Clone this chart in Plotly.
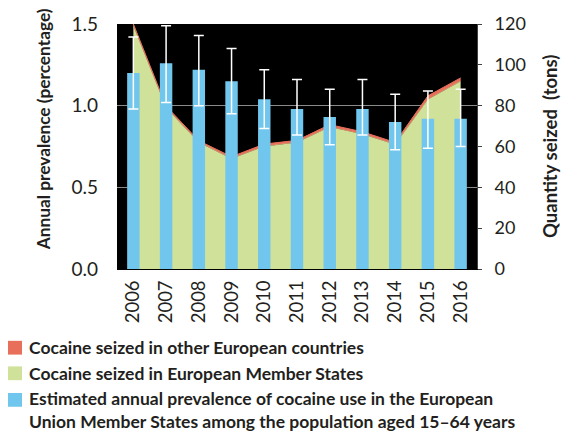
import plotly.graph_objects as go

years = ["2006", "2007", "2008", "2009", "2010", "2011", "2012", "2013", "2014", "2015", "2016"]
seized_eu = [119, 79, 62, 54, 60, 62, 69.5, 66, 61, 83, 92]
seized_other = [1, 0.8, 0.8, 1.0, 1.2, 1.0, 1.2, 1.2, 1.0, 1.8, 1.6]
prevalence = [1.20, 1.26, 1.22, 1.15, 1.04, 0.98, 0.93, 0.98, 0.90, 0.92, 0.92]
prev_upper = [1.42, 1.49, 1.43, 1.35, 1.22, 1.16, 1.10, 1.16, 1.07, 1.09, 1.10]
prev_lower = [0.98, 1.02, 1.00, 0.95, 0.86, 0.82, 0.76, 0.82, 0.73, 0.74, 0.75]

legend_labels = [
    "Cocaine seized in other European countries",
    "Cocaine seized in European Member States",
    "Estimated annual prevalence of cocaine use in the European<br>Union Member States among the population aged 15–64 years",
]

RED = "#E8705A"
GREEN = "#D0E19A"
BLUE = "#70C6EC"
TXT = "#231F20"
FONT = "Lato"

W, H = 578, 433
L, R, T, B = 117, 101, 20, 164
PW, PH = W - L - R, H - T - B

def px(x):
    return (x - L) / PW

def py(y):
    return (H - B - y) / PH

err_plus = [u - p for u, p in zip(prev_upper, prevalence)]
err_minus = [p - l for l, p in zip(prev_lower, prevalence)]

fig = go.Figure()
fig.add_trace(go.Scatter(
    x=years, y=seized_eu, yaxis="y", stackgroup="s", mode="lines",
    line=dict(color=GREEN, width=0.5), fillcolor=GREEN, showlegend=False,
))
fig.add_trace(go.Scatter(
    x=years, y=seized_other, yaxis="y", stackgroup="s", mode="lines",
    line=dict(color=RED, width=1), fillcolor=RED, showlegend=False,
))
fig.add_trace(go.Bar(
    x=years, y=prevalence, yaxis="y2", width=0.38, marker=dict(color=BLUE, line=dict(width=0)),
    error_y=dict(type="data", symmetric=False, array=err_plus, arrayminus=err_minus,
                 color="white", thickness=1.5, width=5),
    showlegend=False,
))

shapes = []
annotations = []
legend_rows = [(349, RED, 0), (375, GREEN, 1), (402, BLUE, 2)]
for cy, col, i in legend_rows:
    shapes.append(dict(type="rect", xref="paper", yref="paper",
                       x0=px(8), x1=px(22), y0=py(cy - 7), y1=py(cy + 7),
                       fillcolor=col, line=dict(width=0)))
    ty = cy if i < 2 else 412.5
    annotations.append(dict(xref="paper", yref="paper", x=px(27), y=py(ty),
                            xanchor="left", yanchor="middle", align="left",
                            text="<b>" + legend_labels[i] + "</b>", showarrow=False,
                            font=dict(family=FONT, size=17.5, color=TXT)))

annotations.append(dict(xref="paper", yref="paper", x=px(43), y=py(127),
                        text="<b>Annual prevalence (percentage)</b>", textangle=-90,
                        showarrow=False, xanchor="center", yanchor="middle",
                        font=dict(family=FONT, size=17.3, color=TXT)))
annotations.append(dict(xref="paper", yref="paper", x=px(550), y=py(145),
                        text="<b>Quantity seized  (tons)</b>", textangle=-90,
                        showarrow=False, xanchor="center", yanchor="middle",
                        font=dict(family=FONT, size=18.5, color=TXT)))

fig.update_layout(
    width=W, height=H,
    margin=dict(l=L, r=R, t=T, b=B, pad=0),
    paper_bgcolor="white", plot_bgcolor="black",
    font=dict(family=FONT, color=TXT),
    bargap=0.62,
    xaxis=dict(type="category", range=[-0.5, 10.5], tickangle=-90,
               tickfont=dict(size=18.5, color=TXT), ticks="", showgrid=False,
               showline=True, linecolor="black", linewidth=1, ticklabelstandoff=3),
    yaxis=dict(side="right", range=[0, 120], dtick=20, ticks="outside", ticklen=4,
               tickcolor="#404040", showline=True, linecolor="#404040", linewidth=1,
               showgrid=False, zeroline=False, tickfont=dict(size=18, color=TXT),
               ticklabelstandoff=9),
    yaxis2=dict(overlaying="y", side="left", range=[0, 1.5], dtick=0.5, tickformat=".1f",
                showgrid=True, gridcolor="#8a8a8a", gridwidth=1, zeroline=False,
                showline=False, ticks="", tickfont=dict(size=19, color=TXT),
                ticklabelstandoff=18),
    shapes=shapes,
    annotations=annotations,
)

fig.write_html("out.html")
